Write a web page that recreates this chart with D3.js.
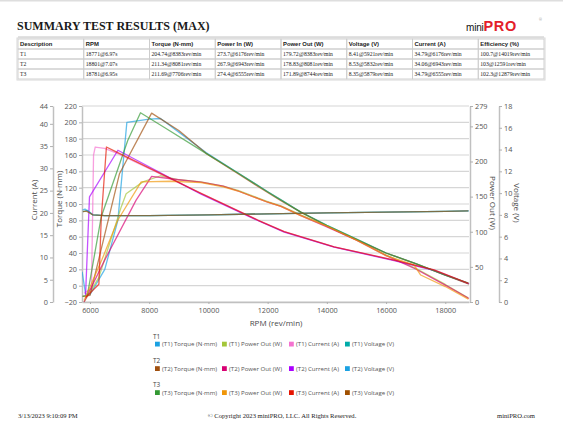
<!DOCTYPE html>
<html><head><meta charset="utf-8">
<script src="https://cdn.jsdelivr.net/npm/d3@7"></script>
<style>body{margin:0;background:#fff}svg{display:block}</style>
</head><body><svg id="c" width="563" height="435"></svg>
<script>
// ---------- DATA ----------
const tableHeaders = ["Description","RPM","Torque (N·mm)","Power In (W)","Power Out (W)","Voltage (V)","Current (A)","Efficiency (%)"];
const tableT1 = ["T1","18771@6.97s","204.74@8383rev/min","273.7@6176rev/min","179.72@8383rev/min","8.41@5921rev/min","34.79@6176rev/min","100.7@14019rev/min"];
const tableT2 = ["T2","18801@7.07s","211.34@8081rev/min","267.9@6943rev/min","178.83@8081rev/min","8.53@5832rev/min","34.06@6943rev/min","103@12591rev/min"];
const tableT3 = ["T3","18781@6.95s","211.69@7706rev/min","274.4@6555rev/min","171.89@8744rev/min","8.35@5879rev/min","34.79@6555rev/min","102.3@12879rev/min"];

const rpmTicks = [6000,8000,10000,12000,14000,16000,18000];
const torqueTicks = [-20,0,20,40,60,80,100,120,140,160,180,200,220];
const currentTicks = [0,5,10,15,20,25,30,35,40,44];
const powerTicks = [0,50,100,150,200,250,279];
const voltageTicks = [0,2,4,6,8,10,12,14,16,18];

// [rpm, value]
const t1Torque = [[5735,17],[5850,-10],[6000,-11],[6500,20],[6942,80],[7245,200],[8000,204],[8383,204.7],[9000,188],[9919,163],[11000,138],[12000,115],[12449,105],[13120,90],[14000,74],[15000,57],[16000,40],[17000,27],[18000,13],[18771,3]];
const t1Power  = [[5800,0],[6300,35],[7052,135],[7221,154],[7787,171],[8383,179.7],[9000,174],[9750,171],[10500,165],[11000,159],[12000,143],[12449,137],[13120,124],[14000,108],[15000,89],[16000,67],[17000,48],[18000,25],[18771,6]];
const t1Current= [[5800,2],[6050,3],[6120,33],[6176,34.79],[6490,34.5],[6943,33.3],[9750,24.4],[11663,18.4],[12560,15.8],[14246,12.4],[16270,9.4],[17619,7.2],[18771,4.2]];
const t1Voltage= [[5760,8.3],[5921,8.41],[6100,8.0],[6500,7.93],[8000,7.93],[10000,8.0],[12000,8.1],[14000,8.18],[16000,8.25],[18000,8.33],[18771,8.36]];

const t2Torque = [[5750,-13],[6000,-12],[6995,137],[8081,211.3],[9000,190],[9919,162],[11000,137],[12000,114],[12449,104],[13120,90],[14000,73],[15000,56],[16000,40],[17000,27],[18000,13],[18801,2]];
const t2Power  = [[5800,0],[6500,60],[7558,145],[8081,178.8],[9000,174],[9750,170.5],[10500,165],[11000,158],[12000,142],[12449,136],[13120,123],[14000,107],[15000,88],[16000,66],[17000,47],[18000,24],[18801,5]];
const t2Current= [[5850,1.5],[5983,23.6],[6943,34.06],[9750,24.2],[11663,18.3],[12560,15.7],[14246,12.3],[16270,9.3],[17619,7.1],[18801,4.1]];
const t2Voltage= [[5750,8.45],[5832,8.53],[6100,8.0],[6500,7.93],[8000,7.93],[10000,8.0],[12000,8.1],[14000,8.18],[16000,8.25],[18000,8.33],[18801,8.36]];

const t3Torque = [[5750,-13],[5910,-12],[6378,84],[7278,178],[7706,211.7],[8500,194],[9919,162],[11000,138],[12000,115],[12449,105],[13120,90],[14000,74],[15000,57],[16000,40],[17000,27],[18000,13],[18781,3]];
const t3Power  = [[5800,2],[6400,60],[6942,116.7],[7730,171],[8744,171.9],[9750,170],[10500,164],[11000,158],[12000,142],[12449,136],[13120,123],[14000,108],[15000,88],[16000,66],[16945,52.7],[17169,38.4],[18000,22],[18781,4]];
const t3Current= [[5850,1],[6300,4],[6378,18.4],[6555,34.79],[6800,34],[9750,24.4],[11663,18.4],[12560,15.8],[14246,12.4],[16270,9.4],[17619,7.2],[18781,4.2]];
const t3Voltage= [[5760,8.3],[5879,8.35],[6100,8.0],[6500,7.93],[8000,7.93],[10000,8.0],[12000,8.1],[14000,8.18],[16000,8.25],[18000,8.33],[18781,8.36]];

const groupNames = ["T1","T2","T3"];
const seriesNames = ["Torque (N·mm)","Power Out (W)","Current (A)","Voltage (V)"];
const groupColors = [
  ["#1BA1E2","#A4C639","#F472D0","#00ABA9"],
  ["#A0500F","#D80073","#AA00FF","#1BA1E2"],
  ["#339933","#F09609","#E51400","#A05000"]
];

// ---------- DRAW ----------
const svg = d3.select("#c");
const serif = "'Liberation Serif','Times New Roman',serif";
const sans = "'Open Sans','Noto Sans','DejaVu Sans',sans-serif";

svg.append("rect").attr("x",0).attr("y",0).attr("width",563).attr("height",1.5).attr("fill","#dedede");

svg.append("text").attr("x",17).attr("y",30).attr("font-family",serif).attr("font-weight","bold")
  .attr("font-size",12).attr("fill","#1a1a1a").text("SUMMARY TEST RESULTS (MAX)");

// logo
const logo = svg.append("text").attr("x",466).attr("y",31).attr("font-family","'Liberation Sans',Arial,sans-serif").attr("font-weight","bold");
logo.append("tspan").attr("font-size",10).attr("fill","#111").attr("font-weight","normal").attr("letter-spacing",-0.2).text("mini");
logo.append("tspan").attr("font-size",14.5).attr("fill","#E3202A").attr("letter-spacing",0.6).text("PRO");
svg.append("text").attr("x",539).attr("y",21).attr("font-size",3.5).attr("fill","#999").attr("font-family",sans).text("®");

svg.append("line").attr("x1",18).attr("x2",544).attr("y1",37).attr("y2",37).attr("stroke","#c4c4c4").attr("stroke-width",1);

// table
const tX0 = 18, tX1 = 544, colW = (tX1 - tX0) / tableHeaders.length;
const rowYs = [39,49,59,69,79];
const tableRows = [tableHeaders, tableT1, tableT2, tableT3];
tableRows.forEach((row, ri) => {
  row.forEach((cell, ci) => {
    svg.append("rect").attr("x", tX0 + ci*colW).attr("y", rowYs[ri]).attr("width", colW).attr("height", rowYs[ri+1]-rowYs[ri])
      .attr("fill","none").attr("stroke","#cdcdcd").attr("stroke-width",0.9);
    svg.append("text").attr("x", tX0 + ci*colW + 2).attr("y", rowYs[ri+1]-2.8)
      .attr("font-family", ri===0 ? "'Liberation Sans',Arial,sans-serif" : serif)
      .attr("font-weight", ri===0 ? "bold" : "normal")
      .attr("font-size", ri===0 ? 5.9 : 5.7).attr("fill","#222").text(cell);
  });
});
svg.append("rect").attr("x",tX0-1).attr("y",38).attr("width",tX1-tX0+2).attr("height",42).attr("fill","none").attr("stroke","#d8d8d8").attr("stroke-width",1);

// scales
const x = d3.scaleLinear().domain([5730,18801]).range([82,469]);
const yT = d3.scaleLinear().domain([-20,220]).range([302,106]);
const yI = d3.scaleLinear().domain([0,44]).range([302,106]);
const yP = d3.scaleLinear().domain([0,279]).range([302,106]);
const yV = d3.scaleLinear().domain([0,18]).range([302,106]);

// grid
svg.append("g").selectAll("line").data(torqueTicks).join("line")
  .attr("x1",82).attr("x2",469).attr("y1",d=>yT(d)).attr("y2",d=>yT(d))
  .attr("stroke","#d6d6d6").attr("stroke-width",1.2);

function styleAxis(g){
  g.selectAll(".domain").attr("stroke","#c0c0c0").attr("stroke-width",1.5);
  g.selectAll(".tick line").attr("stroke","#b0b0b0");
  g.selectAll(".tick text").attr("font-family",sans).attr("font-size",7.3).attr("fill","#555");
}
const fmt = d3.format("d");
svg.append("g").attr("transform","translate(82,0)").call(d3.axisLeft(yT).tickValues(torqueTicks).tickFormat(fmt).tickSize(3).tickSizeOuter(0).tickPadding(2)).call(styleAxis);
svg.append("g").attr("transform","translate(53,0)").call(d3.axisLeft(yI).tickValues(currentTicks).tickFormat(fmt).tickSize(3).tickSizeOuter(0).tickPadding(2)).call(styleAxis);
svg.append("g").attr("transform","translate(470,0)").call(d3.axisRight(yP).tickValues(powerTicks).tickFormat(fmt).tickSize(3).tickSizeOuter(0).tickPadding(2)).call(styleAxis);
svg.append("g").attr("transform","translate(499,0)").call(d3.axisRight(yV).tickValues(voltageTicks).tickFormat(fmt).tickSize(3).tickSizeOuter(0).tickPadding(2)).call(styleAxis);
svg.append("g").attr("transform","translate(0,302)").call(d3.axisBottom(x).tickValues(rpmTicks).tickFormat(fmt).tickSize(2).tickSizeOuter(0).tickPadding(4)).call(styleAxis);

// axis titles
const tt = (t, xx, yy, rot) => svg.append("text").attr("transform",`translate(${xx},${yy}) rotate(${rot})`)
  .attr("text-anchor","middle").attr("font-family",sans).attr("font-size",8).attr("fill","#4a4a4a").text(t);
tt("Current (A)", 37, 200, -90);
tt("Torque (N·mm)", 62, 199, -90);
tt("Power Out (W)", 490, 203, 90);
tt("Voltage (V)", 514, 203, 90);
tt("RPM (rev/min)", 276, 326, 0);

// lines
svg.append("clipPath").attr("id","clip").append("rect").attr("x",82).attr("y",100).attr("width",388).attr("height",203);
const plot = svg.append("g").attr("clip-path","url(#clip)");
const groups = [
  [t1Torque,t1Power,t1Current,t1Voltage],
  [t2Torque,t2Power,t2Current,t2Voltage],
  [t3Torque,t3Power,t3Current,t3Voltage]
];
const yScales = [yT,yP,yI,yV];
groups.forEach((g, gi) => g.forEach((data, si) => {
  const line = d3.line().x(d=>x(d[0])).y(d=>yScales[si](d[1]));
  plot.append("path").datum(data).attr("d",line).attr("fill","none")
    .attr("stroke",groupColors[gi][si]).attr("stroke-width",1.3).attr("stroke-opacity",0.68)
    .attr("stroke-linejoin","round");
}));

// legend
const legX = [155, 222, 289, 345];
const legRowY = [[338.5,346],[362.5,370.5],[387,394.5]];
groupNames.forEach((gname, gi) => {
  svg.append("text").attr("x",153).attr("y",legRowY[gi][0]).attr("font-family",sans).attr("font-size",6.4).attr("fill","#444").text(gname);
  seriesNames.forEach((sname, si) => {
    svg.append("rect").attr("x",legX[si]).attr("y",legRowY[gi][1]-4.3).attr("width",4.8).attr("height",4.8).attr("fill",groupColors[gi][si]);
    svg.append("text").attr("x",legX[si]+7).attr("y",legRowY[gi][1]+0.3).attr("font-family",sans).attr("font-size",6.1).attr("fill","#555")
      .text(`(${gname}) ${sname}`);
  });
});

// footer
svg.append("text").attr("x",18).attr("y",418).attr("font-family",serif).attr("font-size",6.6).attr("fill","#222").text("3/13/2023 9:10:09 PM");
svg.append("text").attr("x",282).attr("y",418).attr("text-anchor","middle").attr("font-family",serif).attr("font-size",6.6).attr("fill","#222").text("© Copyright 2023 miniPRO, LLC. All Rights Reserved.");
svg.append("text").attr("x",535).attr("y",418).attr("text-anchor","end").attr("font-family",serif).attr("font-size",6.6).attr("fill","#222").text("miniPRO.com");
</script></body></html>
